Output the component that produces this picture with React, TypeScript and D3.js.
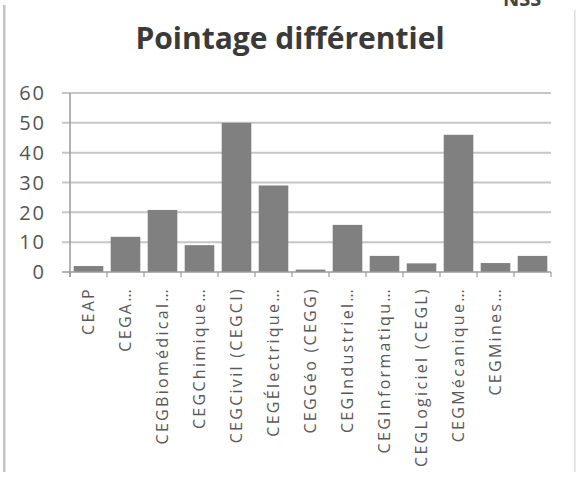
import { useEffect, useRef } from "react";
import * as d3 from "d3";

const categories = [
  "CEAP",
  "CEGA…",
  "CEGBiomédical…",
  "CEGChimique…",
  "CEGCivil (CEGCI)",
  "CEGÉlectrique…",
  "CEGGéo (CEGG)",
  "CEGIndustriel…",
  "CEGInformatiqu…",
  "CEGLogiciel (CEGL)",
  "CEGMécanique…",
  "CEGMines…",
  "",
];
const values = [2, 11.8, 20.8, 9, 50, 29, 0.8, 15.8, 5.4, 2.9, 46, 3, 5.4];
const yTicks = [0, 10, 20, 30, 40, 50, 60];

const W = 577;
const H = 479;
const M = { left: 70, right: 26, top: 93, bottom: 207 };

export default function App() {
  const svgRef = useRef<SVGSVGElement>(null);

  useEffect(() => {
    document.body.style.margin = "0";
    if (!svgRef.current) return;
    const svg = d3.select(svgRef.current);
    svg.selectAll("*").remove();

    const font = "'Open Sans', sans-serif";

    // frame
    svg.append("rect").attr("x", 3).attr("y", 5).attr("width", 2.5).attr("height", 467)
      .attr("fill", "#c4c4c4");
    svg.append("rect").attr("x", 574).attr("y", 10).attr("width", 1.5).attr("height", 462)
      .attr("fill", "#dcdcdc");
    svg.append("text").attr("x", 503).attr("y", 6).attr("font-family", font)
      .attr("font-size", 20).attr("font-weight", "bold").attr("fill", "#444").text("NSS");

    const x = d3
      .scaleBand()
      .domain(categories.map((_, i) => String(i)))
      .range([M.left, W - M.right])
      .paddingInner(0.2)
      .paddingOuter(0.1);
    const step = x.step();
    const x0 = M.left;
    const x1 = W - M.right;

    const y = d3.scaleLinear().domain([0, 60]).range([H - M.bottom, M.top]);

    // gridlines
    svg.append("g")
      .selectAll("line")
      .data(yTicks.filter((t) => t > 0))
      .join("line")
      .attr("x1", x0 - 8)
      .attr("x2", x1)
      .attr("y1", (d) => y(d))
      .attr("y2", (d) => y(d))
      .attr("stroke", "#c6c6c6")
      .attr("stroke-width", 2);

    // y labels
    svg.append("g")
      .selectAll("text")
      .data(yTicks)
      .join("text")
      .attr("x", 46)
      .attr("y", (d) => y(d))
      .attr("dy", "0.36em")
      .attr("text-anchor", "end")
      .attr("font-family", font)
      .attr("font-size", 20)
      .attr("letter-spacing", 2)
      .attr("fill", "#555")
      .text((d) => d);

    // bars
    svg.append("g")
      .selectAll("rect")
      .data(values)
      .join("rect")
      .attr("x", (_, i) => x(String(i))!)
      .attr("y", (d) => y(d))
      .attr("width", x.bandwidth())
      .attr("height", (d) => y(0) - y(d))
      .attr("fill", "#808080");

    // y axis line
    svg.append("line").attr("x1", x0).attr("x2", x0).attr("y1", y(60)).attr("y2", y(0) + 5)
      .attr("stroke", "#9a9a9a").attr("stroke-width", 1.5);
    // x axis line
    svg.append("line").attr("x1", x0 - 8).attr("x2", x1).attr("y1", y(0)).attr("y2", y(0))
      .attr("stroke", "#9a9a9a").attr("stroke-width", 1.5);
    // x ticks at category boundaries
    svg.append("g")
      .selectAll("line")
      .data(d3.range(categories.length + 1))
      .join("line")
      .attr("x1", (i) => x0 + i * step)
      .attr("x2", (i) => x0 + i * step)
      .attr("y1", y(0))
      .attr("y2", y(0) + 5)
      .attr("stroke", "#9a9a9a")
      .attr("stroke-width", 1.2);

    // x labels, rotated
    svg.append("g")
      .selectAll("text")
      .data(categories)
      .join("text")
      .attr("transform", (_, i) => `translate(${x(String(i))! + x.bandwidth() / 2},${y(0) + 15}) rotate(-90)`)
      .attr("dy", "0.36em")
      .attr("text-anchor", "end")
      .attr("font-family", font)
      .attr("font-size", 16)
      .attr("letter-spacing", 2.3)
      .attr("fill", "#595959")
      .text((d) => d);

    // title
    svg.append("text")
      .attr("x", 290)
      .attr("y", 49)
      .attr("text-anchor", "middle")
      .attr("font-family", font)
      .attr("font-size", 30)
      .attr("font-weight", "bold")
      .attr("fill", "#3a3a3a")
      .text("Pointage différentiel");
  }, []);

  return (
    <svg ref={svgRef} width={W} height={H} style={{ display: "block", background: "#fff" }} />
  );
}
